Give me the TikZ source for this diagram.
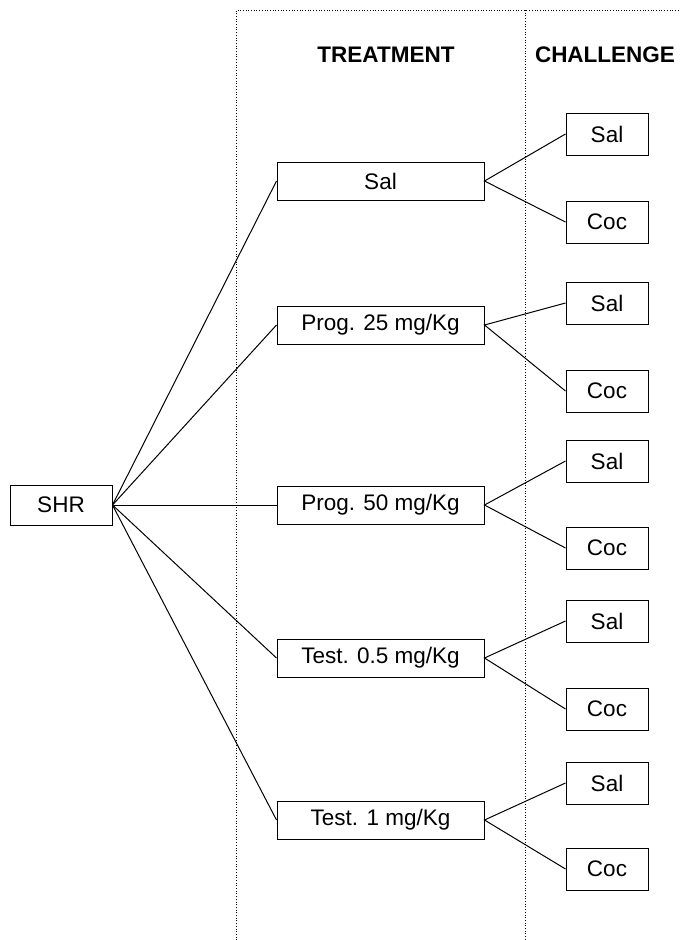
\documentclass[tikz,border=0pt]{standalone}
\usepackage{fontspec}
\setmainfont{Liberation Sans}
\begin{document}
\begin{tikzpicture}[x=1pt,y=-1pt]
\tikzstyle{every node}+=[inner sep=0pt, font=\fontsize{22.5}{26}\selectfont]
\tikzstyle{grp}=[draw=black, line width=1pt, fill=white, minimum height=40pt]
\useasboundingbox (0,0) rectangle (680,940);
\draw [black, dotted, line width=0.7pt] (236,940) -- (236,10) -- (680,10);
\draw [black, dotted, line width=0.7pt] (525,10) -- (525,940);
\node (hdtreat) at (386,55) {\textbf{TREATMENT}};
\node (hdchal) at (605,55) {\textbf{CHALLENGE}};
\node [grp, minimum width=102pt] (shr) at (61,505) {SHR};
\node [grp, minimum width=207pt, minimum height=38pt] (t1) at (380.5,181) {Sal};
\node [grp, minimum width=207pt, minimum height=38pt] (t2) at (380.5,325) {Prog. 25 mg/Kg};
\node [grp, minimum width=207pt, minimum height=38pt] (t3) at (380.5,505) {Prog. 50 mg/Kg};
\node [grp, minimum width=207pt, minimum height=38pt] (t4) at (380.5,658) {Test. 0.5 mg/Kg};
\node [grp, minimum width=207pt, minimum height=38pt] (t5) at (380.5,820) {Test. 1 mg/Kg};
\node [grp, minimum width=82pt, minimum height=42pt] (s1) at (607,134) {Sal};
\node [grp, minimum width=82pt, minimum height=42pt] (c1) at (607,222) {Coc};
\node [grp, minimum width=82pt, minimum height=42pt] (s2) at (607,303) {Sal};
\node [grp, minimum width=82pt, minimum height=42pt] (c2) at (607,391) {Coc};
\node [grp, minimum width=82pt, minimum height=42pt] (s3) at (607,461) {Sal};
\node [grp, minimum width=82pt, minimum height=42pt] (c3) at (607,548) {Coc};
\node [grp, minimum width=82pt, minimum height=42pt] (s4) at (607,621) {Sal};
\node [grp, minimum width=82pt, minimum height=42pt] (c4) at (607,709) {Coc};
\node [grp, minimum width=82pt, minimum height=42pt] (s5) at (607,783) {Sal};
\node [grp, minimum width=82pt, minimum height=42pt] (c5) at (607,869) {Coc};
\draw [black, line width=1pt] (shr.east) -- (t1.west);
\draw [black, line width=1pt] (shr.east) -- (t2.west);
\draw [black, line width=1pt] (shr.east) -- (t3.west);
\draw [black, line width=1pt] (shr.east) -- (t4.west);
\draw [black, line width=1pt] (shr.east) -- (t5.west);
\draw [black, line width=1pt] (s1.west) -- (t1.east) -- (c1.west);
\draw [black, line width=1pt] (s2.west) -- (t2.east) -- (c2.west);
\draw [black, line width=1pt] (s3.west) -- (t3.east) -- (c3.west);
\draw [black, line width=1pt] (s4.west) -- (t4.east) -- (c4.west);
\draw [black, line width=1pt] (s5.west) -- (t5.east) -- (c5.west);
\end{tikzpicture}
\end{document}
